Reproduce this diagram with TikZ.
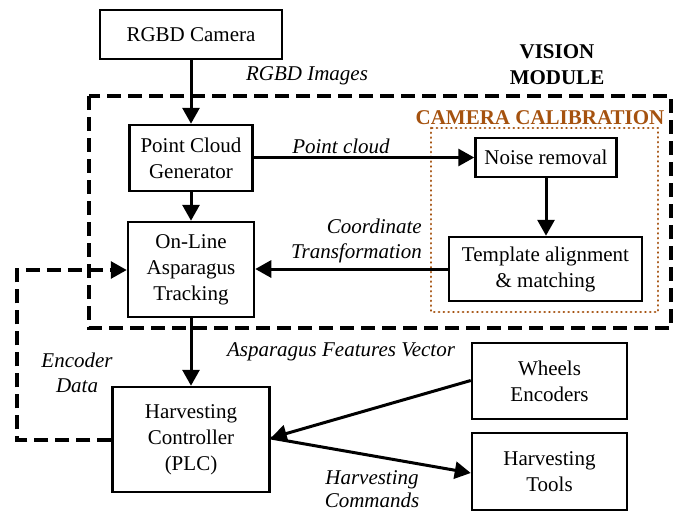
\documentclass[tikz,border=0pt]{standalone}
\usepackage{fontspec}
\setmainfont{Liberation Serif}
\newfontfamily\tnr{Liberation Serif}
\usetikzlibrary{arrows.meta}
\definecolor{calib}{RGB}{165,82,15}
\begin{document}
\begin{tikzpicture}[x=1pt,y=-1pt,
  txt/.style={font=\tnr\fontsize{21}{26}\selectfont},
  blk/.style={draw,line width=2.5pt,align=center,inner sep=0pt,txt},
  lab/.style={font=\tnr\fontsize{21}{25}\selectfont\itshape,align=center,inner sep=0pt},
  arr/.style={line width=3pt,-{Triangle[length=16pt,width=17pt]}},
  dsh/.style={line width=3.8pt,dash pattern=on 14pt off 7pt}]
\useasboundingbox (0,0) rectangle (684,514);
% frames
\draw[dsh] (89,96) rectangle (671,328);
\draw[calib,line width=2.8pt,dash pattern=on 0.1pt off 4.7pt,line cap=round] (431,128) rectangle (658,312);
\node[font=\tnr\fontsize{21}{25}\selectfont\bfseries,text=calib,inner sep=0pt] (cc) at (540,118) {CAMERA CALIBRATION};
\node[font=\tnr\fontsize{21}{26}\selectfont\bfseries,align=center,inner sep=0pt] (vm) at (557,65) {VISION\\MODULE};
% blocks
\node[blk,minimum width=182pt,minimum height=49pt] (cam) at (191,34.5) {RGBD Camera};
\node[blk,minimum width=123pt,minimum height=66pt] (pcg) at (191,158) {Point Cloud\\Generator};
\node[blk,minimum width=141pt,minimum height=39pt] (nr) at (546,157.5) {Noise removal};
\node[blk,minimum width=193pt,minimum height=64pt] (tam) at (545.5,269) {Template alignment\\\& matching};
\node[blk,minimum width=126pt,minimum height=95pt] (olt) at (191,269.5) {On-Line\\Asparagus\\Tracking};
\node[blk,minimum width=157pt,minimum height=105pt] (hc) at (191,439.5) {Harvesting\\Controller\\(PLC)};
\node[blk,minimum width=155pt,minimum height=76pt] (we) at (549.5,381) {Wheels\\Encoders};
\node[blk,minimum width=155pt,minimum height=77pt] (ht) at (549.5,471.5) {Harvesting\\Tools};
% connectors
\draw[arr] (cam.south) -- (pcg.north);
\draw[arr] (pcg.south) -- (olt.north);
\draw[arr] (pcg.east |- nr.west) -- (nr.west);
\draw[arr] (nr.south) -- (nr.south |- tam.north);
\draw[arr] (tam.west) -- (tam.west -| olt.east);
\draw[arr] (olt.south) -- (hc.north);
\coordinate (hcr) at ([yshift=1.5pt]hc.east);
\coordinate (wel) at ([yshift=0.5pt]we.west);
\coordinate (htl) at ([yshift=-1.5pt]ht.west);
\draw[arr] (wel) -- (hcr);
\draw[arr] (hcr) -- (htl);
\coordinate (fb1) at (17,440);
\coordinate (fb2) at (17,270);
\draw[dsh] (hc.west |- fb1) -- (fb1) -- (fb2) -- ([xshift=-15pt]olt.west |- fb2);
\draw[arr] ([xshift=-16pt]olt.west |- fb2) -- (olt.west |- fb2);
% labels
\node[lab] (l1) at (307,76) {RGBD Images};
\node[lab] (l2) at (341,146) {Point cloud};
\node[lab,align=right,anchor=east] (l3) at (422,241) {Coordinate\\Transformation};
\node[lab] (l4) at (341,352) {Asparagus Features Vector};
\node[lab] (l5) at (77,373) {Encoder\\Data};
\node[lab,font=\tnr\fontsize{21}{23}\selectfont\itshape] (l6) at (372,489) {Harvesting\\Commands};
\end{tikzpicture}
\end{document}
